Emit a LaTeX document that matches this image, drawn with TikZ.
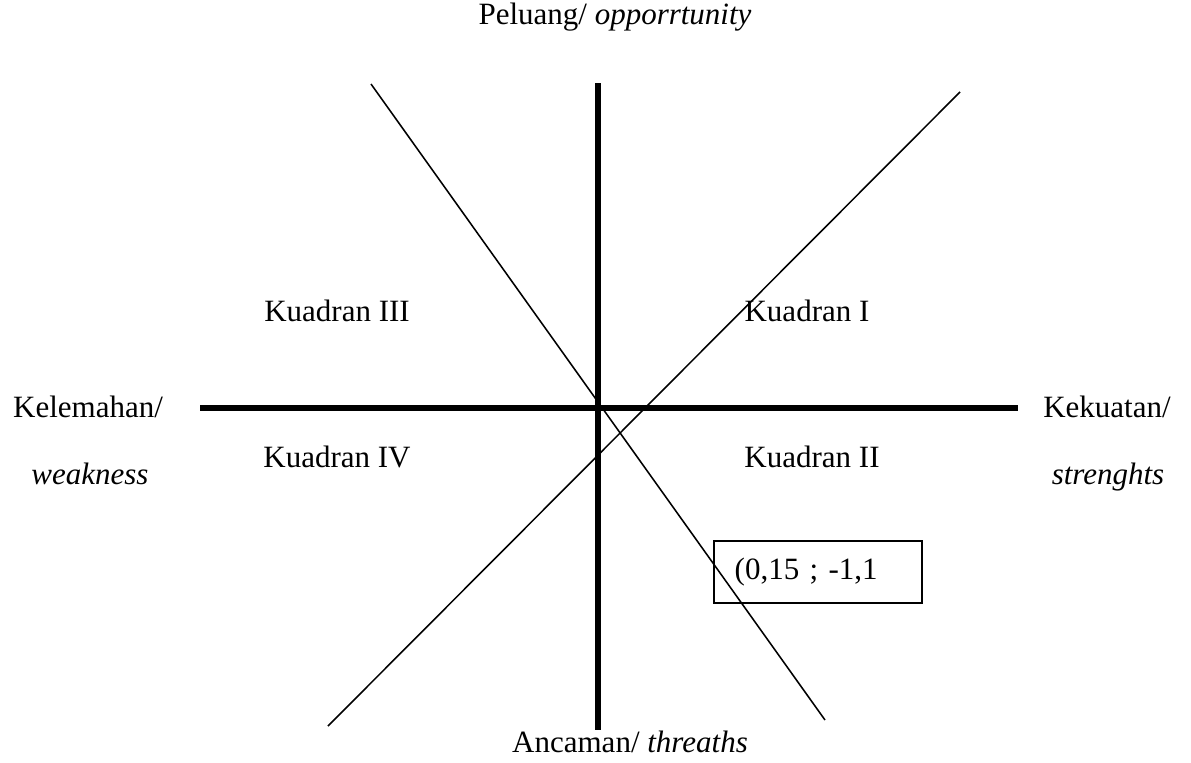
\documentclass[tikz,border=0pt]{standalone}
\usepackage{fontspec}
\setmainfont{Liberation Serif}[ItalicFont={Liberation Serif Italic}]
\usepackage{tikz}
\usetikzlibrary{positioning}

\begin{document}
\begin{tikzpicture}[
  x=0.3871pt, y=-0.3871pt,
  axis/.style={line width=2.3pt},
  diag/.style={line width=0.6pt},
  lbl/.style={font=\fontsize{12pt}{14pt}\selectfont, inner sep=0pt, anchor=base},
  box/.style={draw, line width=0.6pt, minimum width=80.5pt, minimum height=24pt,
              inner xsep=8pt, text width=64.5pt, align=left,
              font=\fontsize{12pt}{14pt}\selectfont},
]
\useasboundingbox (0,0) rectangle (1191,762);

% axis end points
\coordinate (top) at (598,83);
\coordinate (bot) at (598,730);
\coordinate (left) at (200,408);
\coordinate (right) at (1018,408);

% diagonal end points
\coordinate (d1a) at (371,84);
\coordinate (d1b) at (825,720);
\coordinate (d2a) at (328,726);
\coordinate (d2b) at (960,92);

\draw[diag] (d1a) -- (d1b);
\draw[diag] (d2a) -- (d2b);
\draw[axis] (left) -- (right);
\draw[axis] (top) -- (bot);

% axis labels
\node[lbl] (opp) at (615,24) {Peluang/ \textit{opporrtunity}};
\node[lbl] (thr) at (630,752) {Ancaman/ \textit{threaths}};
\node[lbl] (kel) at (88,417) {Kelemahan/};
\node[lbl] (weak) at (90,484) {\textit{weakness}};
\node[lbl] (kek) at (1107,417) {Kekuatan/};
\node[lbl] (str) at (1108,484) {\textit{strenghts}};

% quadrants
\node[lbl] (q3) at (337,321) {Kuadran III};
\node[lbl] (q1) at (807,321) {Kuadran I};
\node[lbl] (q4) at (337,467) {Kuadran IV};
\node[lbl] (q2) at (812,467) {Kuadran II};

% position point
\node[box] (pos) at (818,572) {(0,15 ; -1,1};

\end{tikzpicture}
\end{document}
